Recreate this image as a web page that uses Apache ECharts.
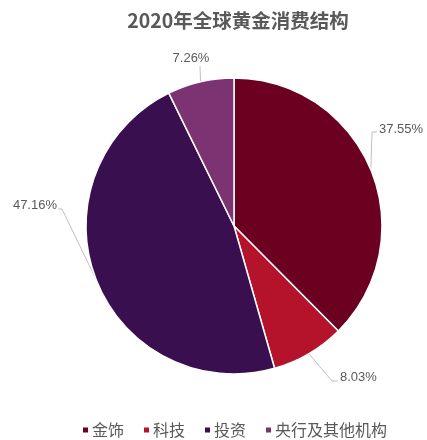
<!DOCTYPE html>
<html>
<head>
<meta charset="utf-8">
<script src="https://cdn.jsdelivr.net/npm/echarts@6/dist/echarts.min.js"></script>
<style>
	html, body { margin: 0; padding: 0; background: #fff; }
	#echarts_box { width: 427px; height: 440px; }
</style>
</head>
<body>
<div id="echarts_box"></div>
<script>
/*分类*/
var categories = ['金饰', '科技', '投资', '央行及其他机构'];
/*占比(%)*/
var shares = [37.55, 8.03, 47.16, 7.26];
/*颜色*/
var colors = ['#6B0021', '#B5132B', '#3A0F4F', '#7B3372'];

var pieData = [];
for (var i = 0; i < categories.length; i++) {
	pieData.push({ name: categories[i], value: shares[i] });
}

/*标签位置(仿Excel的最佳位置)*/
var labelSpots = [
	{ bend: [372, 132], end: [377, 132], x: 379, y: 129, align: 'left', va: 'middle' },
	{ bend: [332, 381], end: [338, 381], x: 340, y: 377, align: 'left', va: 'middle' },
	{ bend: [62, 209], end: [58, 209], x: 57, y: 205, align: 'right', va: 'middle' },
	{ bend: null, end: [200, 66], x: 191, y: 58, align: 'center', va: 'middle' }
];

var mychart = echarts.init(document.getElementById('echarts_box'));
var option = {
	color: colors,
	title: {
		text: '2020年全球黄金消费结构',
		left: 233,
		textAlign: 'center',
		top: 6,
		textStyle: {
			fontFamily: 'Noto Sans CJK SC',
			fontSize: 19.5,
			fontWeight: 'bold',
			color: '#595959'
		}
	},
	legend: {
		top: 417,
		left: 76,
		icon: 'rect',
		itemWidth: 7,
		itemHeight: 7,
		itemGap: 18,
		textStyle: {
			fontFamily: 'Noto Sans CJK SC',
			fontSize: 16,
			color: '#595959',
			padding: [0, 0, 0, -2]
		},
		data: categories
	},
	series: [{
		type: 'pie',
		center: [234, 226],
		radius: 148,
		startAngle: 90,
		clockwise: true,
		itemStyle: {
			borderColor: '#fff',
			borderWidth: 1.5
		},
		label: {
			formatter: '{c}%',
			fontFamily: 'Liberation Sans',
			fontSize: 13,
			color: '#595959',
			overflow: 'none'
		},
		labelLine: {
			length: 12,
			length2: 8,
			lineStyle: { color: '#bfbfbf', width: 1 }
		},
		labelLayout: function(params) {
			var s = labelSpots[params.dataIndex];
			var p0 = params.labelLinePoints[0];
			var pts = s.bend ? [p0, s.bend, s.end] : [p0, s.end, s.end];
			return {
				x: s.x,
				y: s.y,
				align: s.align,
				verticalAlign: s.va,
				labelLinePoints: pts
			};
		},
		data: pieData
	}]
};
mychart.setOption(option);
</script>
</body>
</html>
